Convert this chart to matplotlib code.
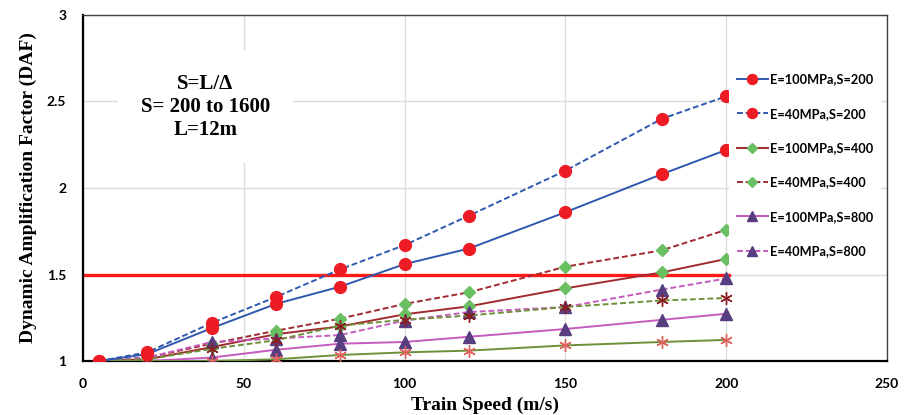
import matplotlib
matplotlib.use("Agg")
import matplotlib.pyplot as plt

# train speed (m/s)
speed = [5, 20, 40, 60, 80, 100, 120, 150, 180, 200]

# DAF values
e100_s200 = [1.00, 1.04, 1.19, 1.33, 1.43, 1.56, 1.65, 1.86, 2.08, 2.22]
e40_s200 = [1.00, 1.05, 1.22, 1.37, 1.53, 1.67, 1.84, 2.10, 2.40, 2.53]
e100_s400 = [1.00, 1.01, 1.08, 1.155, 1.20, 1.27, 1.316, 1.42, 1.512, 1.59]
e40_s400 = [1.00, 1.02, 1.10, 1.175, 1.245, 1.33, 1.397, 1.545, 1.64, 1.758]
e100_s800 = [1.00, 1.00, 1.02, 1.065, 1.10, 1.11, 1.14, 1.185, 1.238, 1.273]
e40_s800 = [1.00, 1.02, 1.11, 1.13, 1.15, 1.234, 1.283, 1.312, 1.413, 1.477]
e100_s1600 = [1.00, 1.00, 1.00, 1.01, 1.035, 1.05, 1.06, 1.09, 1.11, 1.122]
e40_s1600 = [1.00, 1.01, 1.07, 1.12, 1.205, 1.238, 1.263, 1.312, 1.35, 1.364]

limit_x = [0, 201]
limit_y = [1.5, 1.5]

blue = "#2F58AE"
red = "#ED1C24"
darkred = "#A02A2F"
lgreen = "#6BBF63"
magenta = "#C65BBE"
purple = "#573E80"
olive = "#6E9039"
star = (6, 2, 0)

fig = plt.figure(figsize=(9.1, 4.15), dpi=100)
ax = fig.add_axes([0.0912, 0.1301, 0.8835, 0.8338])

ax.plot(limit_x, limit_y, color="#FF1A1A", lw=2.4, zorder=2)

ax.plot(speed, e100_s200, color=blue, lw=1.4, marker="o", ms=8.5, mfc=red, mec=red,
        label="E=100MPa,S=200", zorder=4)
ax.plot(speed, e40_s200, color=blue, lw=1.4, ls=(0, (3, 1.5)), marker="o", ms=8.5, mfc=red, mec=red,
        label="E=40MPa,S=200", zorder=4)
ax.plot(speed, e100_s400, color=darkred, lw=1.4, marker="D", ms=6.5, mfc=lgreen, mec=lgreen,
        label="E=100MPa,S=400", zorder=3)
ax.plot(speed, e40_s400, color=darkred, lw=1.4, ls=(0, (3, 1.5)), marker="D", ms=6.5, mfc=lgreen, mec=lgreen,
        label="E=40MPa,S=400", zorder=3)
ax.plot(speed, e100_s800, color=magenta, lw=1.4, marker="^", ms=8, mfc=purple, mec=purple,
        label="E=100MPa,S=800", zorder=3)
ax.plot(speed, e40_s800, color=magenta, lw=1.4, ls=(0, (3, 1.5)), marker="^", ms=8, mfc=purple, mec=purple,
        label="E=40MPa,S=800", zorder=3)
ax.plot(speed, e100_s1600, color=olive, lw=1.4, marker=star, ms=9, mec="#E0605A", mew=1.0, zorder=3)
ax.plot(speed, e40_s1600, color=olive, lw=1.4, ls=(0, (3, 1.5)), marker=star, ms=9, mec="#8B1D22",
        mew=1.0, zorder=3)

ax.set_xlim(0, 250)
ax.set_ylim(1, 3)
ax.set_xticks([0, 50, 100, 150, 200, 250])
ax.set_yticks([1, 1.5, 2, 2.5, 3])
ax.set_yticklabels(["1", "1.5", "2", "2.5", "3"])
ax.grid(True, color="#DCDCDC", lw=1.0, zorder=0)
ax.set_axisbelow(True)
ax.tick_params(length=0, pad=12)
for lab in ax.get_xticklabels() + ax.get_yticklabels():
    lab.set_fontfamily("Lato")
    lab.set_fontweight("bold")
    lab.set_fontsize(10)

for s in ["left", "bottom"]:
    ax.spines[s].set_color("black")
    ax.spines[s].set_linewidth(1.6)
for s in ["top", "right"]:
    ax.spines[s].set_color("#404040")
    ax.spines[s].set_linewidth(1.0)

ax.set_xlabel("Train Speed (m/s)", family="Liberation Serif", weight="bold", fontsize=14, labelpad=5)
ax.set_ylabel("Dynamic Amplification Factor (DAF)", family="Liberation Serif", weight="bold",
              fontsize=14, labelpad=7)

ax.text(0.152, 0.733, "S=L/\u0394\nS= 200 to 1600\nL=12m", transform=ax.transAxes,
        ha="center", va="center", family="Liberation Serif", weight="bold", fontsize=15,
        linespacing=1.2, zorder=5,
        bbox=dict(boxstyle="square,pad=1.1", facecolor="white", edgecolor="none"))

leg = ax.legend(loc="upper left", bbox_to_anchor=(0.796, 0.872), frameon=True, fancybox=False,
                edgecolor="none", facecolor="white", framealpha=1, handlelength=2.4,
                handletextpad=0.15, labelspacing=1.75, borderpad=0.6, markerscale=0.85,
                prop={"family": "Lato", "weight": "bold", "size": 9.2})
leg.set_zorder(6)

fig.savefig("out.png", dpi=100)
